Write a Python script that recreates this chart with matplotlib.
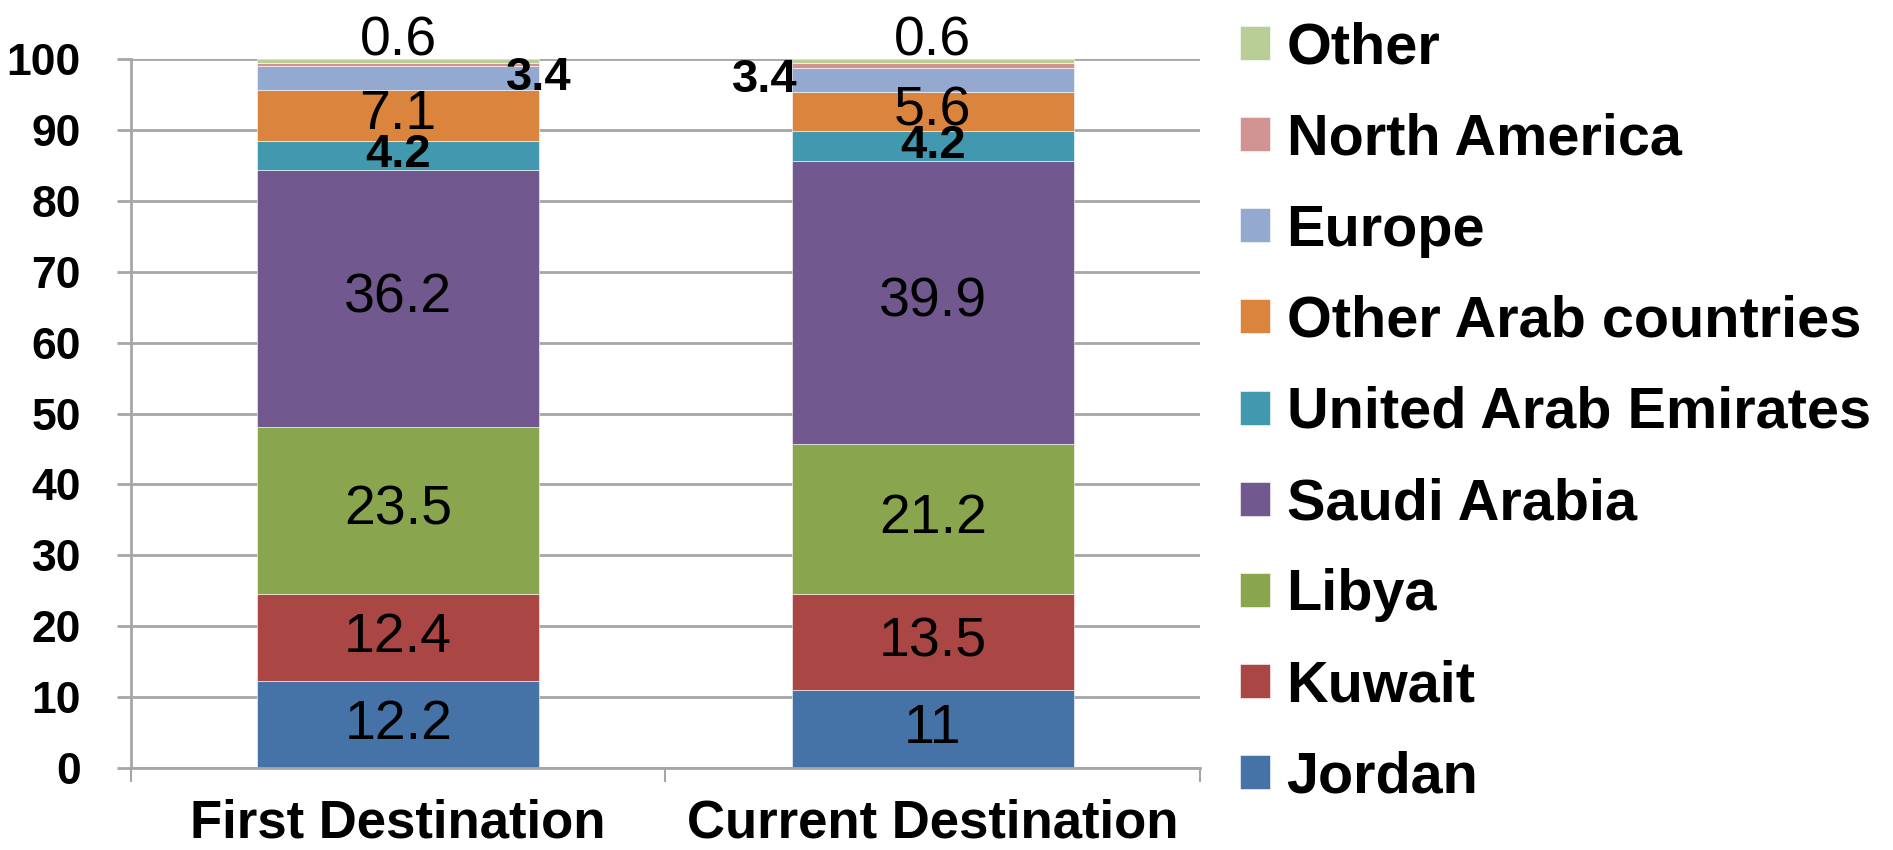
import numpy as np
import matplotlib
matplotlib.use("Agg")
import matplotlib.pyplot as plt

plt.rcParams['font.family'] = ['Liberation Sans', 'DejaVu Sans']

categories = ["First Destination", "Current Destination"]
regions = ["Jordan", "Kuwait", "Libya", "Saudi Arabia", "United Arab Emirates",
           "Other Arab countries", "Europe", "North America", "Other"]
first_dest = [12.2, 12.4, 23.5, 36.2, 4.2, 7.1, 3.4, 0.4, 0.6]
current_dest = [11, 13.5, 21.2, 39.9, 4.2, 5.6, 3.4, 0.6, 0.6]
colors = ["#4572A7", "#AA4643", "#89A54E", "#71588F", "#4198AF",
          "#DB843D", "#93A9CF", "#D19392", "#B9CD96"]
yticks = [0, 10, 20, 30, 40, 50, 60, 70, 80, 90, 100]

grey = "#A6A6A6"
bar_w = 0.527

fig = plt.figure(figsize=(18.93, 8.5), dpi=100)
ax = fig.add_axes([0.0692, 0.0965, 0.5647, 0.834])

x = np.arange(len(categories))
values = np.array([first_dest, current_dest]).T  # rows = regions
bottom = np.zeros(len(categories))
bars = []
for i, name in enumerate(regions):
    b = ax.bar(x, values[i], bar_w, bottom=bottom, color=colors[i],
               edgecolor="white", linewidth=0.4, label=name, zorder=2)
    bars.append(b)
    for j in range(len(categories)):
        v = values[i][j]
        mid = bottom[j] + v / 2
        txt = f"{v:g}"
        if name == "Other":
            ax.text(x[j], bottom[j] + v + 0.55, txt, ha="center",
                    va="baseline", fontsize=40, clip_on=False)
        elif name == "North America":
            pass
        elif name == "Europe":
            # label sits on the bar edge, pushed out towards the gap
            if j == 0:
                lx = x[j] + bar_w / 2
            else:
                lx = x[j] - bar_w / 2 - 0.05
            ax.text(lx, mid, txt, ha="center", va="center", fontsize=34,
                    fontweight="bold", zorder=5)
        elif name == "United Arab Emirates":
            ax.text(x[j], mid, txt, ha="center", va="center",
                    fontsize=34, fontweight="bold", zorder=5)
        else:
            ax.text(x[j], mid, txt, ha="center", va="center", fontsize=40,
                    zorder=5)
    bottom = bottom + values[i]

ax.set_xlim(-0.5, 1.5)
ax.set_ylim(0, 100)
ax.set_yticks(yticks)
ax.set_yticklabels([str(t) for t in yticks], fontsize=32, fontweight="bold")
ax.set_xticks(x)
ax.set_xticklabels(categories, fontsize=38, fontweight="bold")
ax.set_xticks([-0.5, 0.5, 1.5], minor=True)

ax.yaxis.grid(True, color=grey, linewidth=2, zorder=0)
ax.set_axisbelow(True)
ax.tick_params(axis="y", length=10, width=2, color=grey, pad=26)
ax.tick_params(axis="x", which="major", length=0, pad=22)
ax.tick_params(axis="x", which="minor", length=10, width=1.5, color=grey)

for s in ["top", "right"]:
    ax.spines[s].set_visible(False)
for s in ["left", "bottom"]:
    ax.spines[s].set_color(grey)
    ax.spines[s].set_linewidth(2)

ax.legend(bars[::-1], regions[::-1], loc="upper left",
          bbox_to_anchor=(0.655, 0.975), bbox_transform=fig.transFigure,
          frameon=False, prop={"size": 41.5, "weight": "bold"},
          handlelength=0.53, handleheight=0.53, handletextpad=0.28,
          labelspacing=0.645, borderpad=0, borderaxespad=0)

fig.savefig("out.png", dpi=100)
